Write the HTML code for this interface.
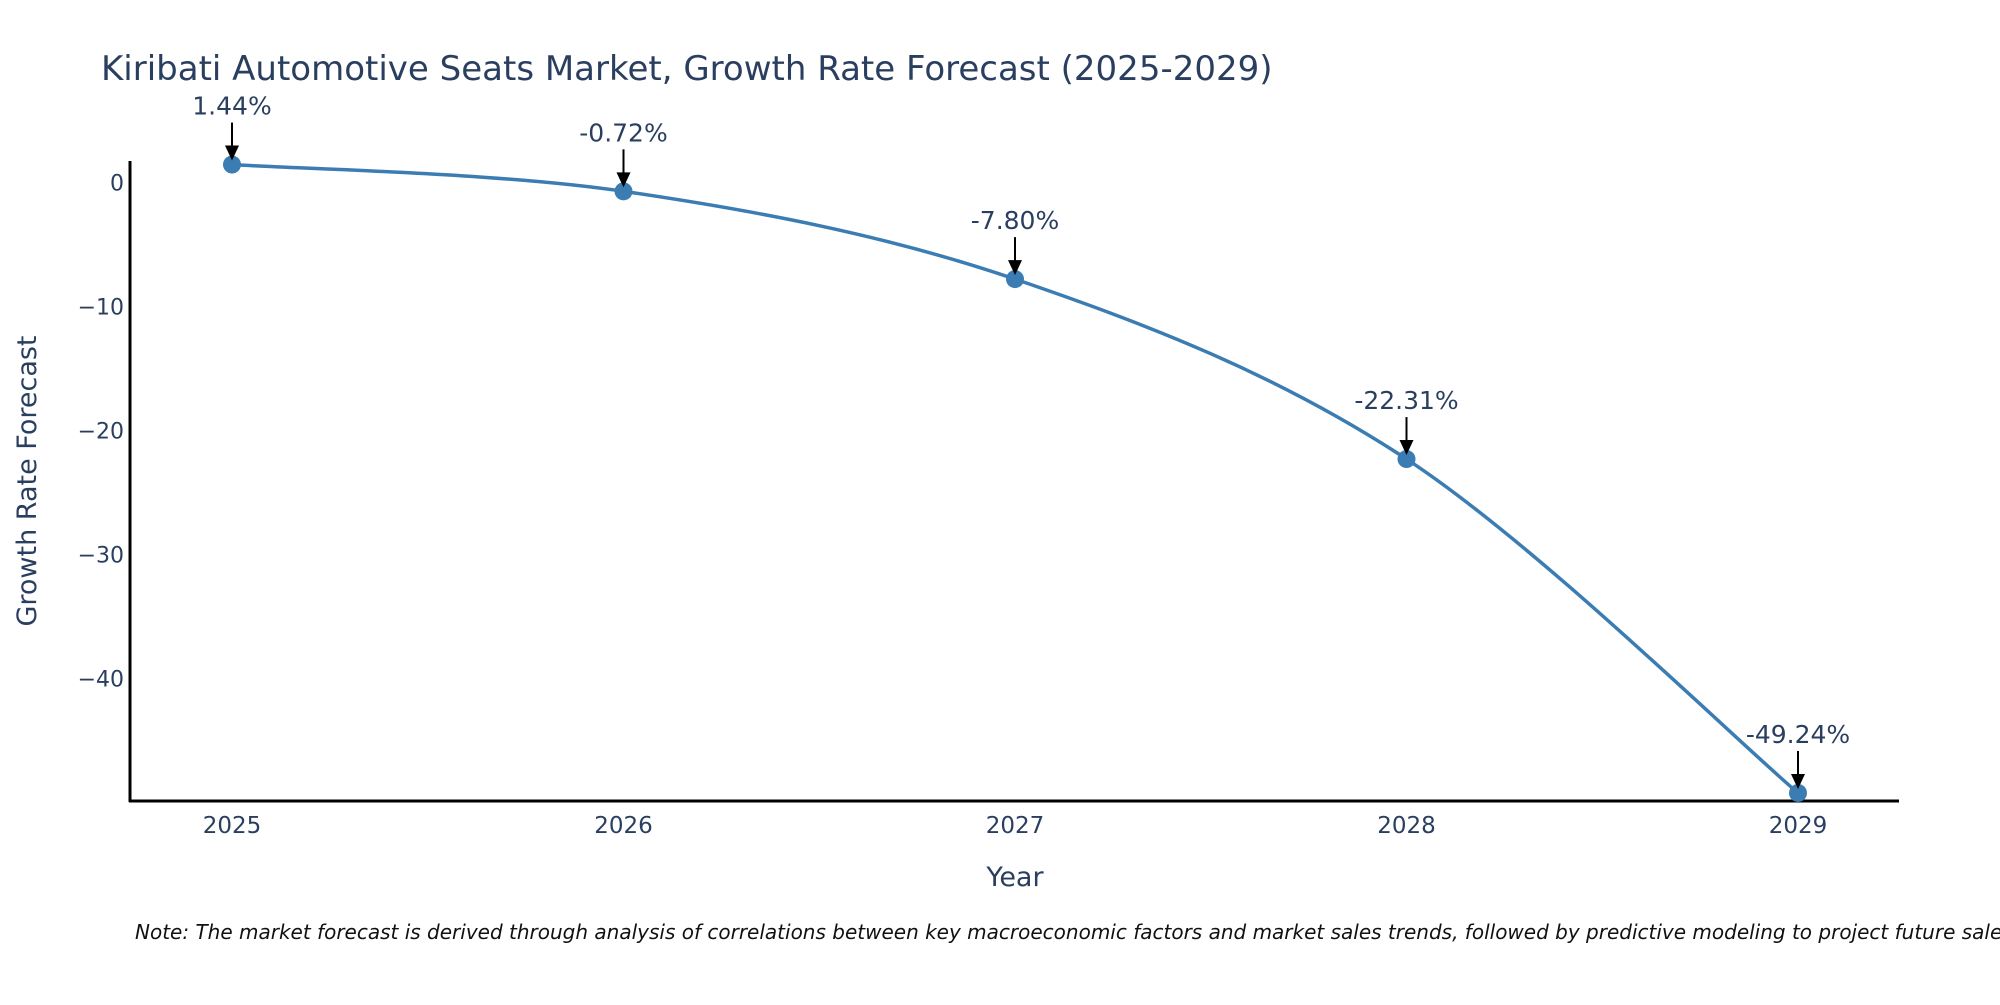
<!DOCTYPE html>
<html><head><meta charset="utf-8"><style>
body{margin:0;background:#fff;}
svg text{font-family:"DejaVu Sans","Liberation Sans",sans-serif;fill:#2a3f5f;}
</style></head><body>
<svg width="2000" height="1000" xmlns="http://www.w3.org/2000/svg">
<text x="101" y="80" font-size="34">Kiribati Automotive Seats Market, Growth Rate Forecast (2025-2029)</text>
<g id="yticks"></g>
<g id="xticks"></g>
<line x1="130" y1="161" x2="130" y2="802" stroke="#000" stroke-width="3"/>
<line x1="129" y1="801" x2="1899" y2="801" stroke="#000" stroke-width="3"/>
<text transform="translate(36,481) rotate(-90)" text-anchor="middle" font-size="27">Growth Rate Forecast</text>
<text x="1015" y="886" text-anchor="middle" font-size="27">Year</text>
<path id="line" fill="none" stroke="#3b7db3" stroke-width="3.5"/>
<g id="marks"></g>
<text x="135" y="939" font-size="20" font-style="italic" style="fill:#111">Note: The market forecast is derived through analysis of correlations between key macroeconomic factors and market sales trends, followed by predictive modeling to project future sales.</text>
</svg>
<script>
const years=[2025,2026,2027,2028,2029];
const values=[1.44,-0.72,-7.80,-22.31,-49.24];
const labels=["1.44%","-0.72%","-7.80%","-22.31%","-49.24%"];
const yTicks=[0,-10,-20,-30,-40];
const NS="http://www.w3.org/2000/svg";
function xs(v){return 232+(v-2025)*391.5;}
function ys(v){return 182.4-v*12.4;}
function mk(t,a,p){const e=document.createElementNS(NS,t);for(const k in a)e.setAttribute(k,a[k]);(p||document.querySelector('svg')).appendChild(e);return e;}
const yt=document.getElementById('yticks'),xt=document.getElementById('xticks'),mg=document.getElementById('marks');
yTicks.forEach(v=>{const t=mk('text',{x:124,y:ys(v)+8,'text-anchor':'end','font-size':22},yt);t.textContent=(v<0?'\u2212'+(-v):v);

});
years.forEach(v=>{const t=mk('text',{x:xs(v),y:833,'text-anchor':'middle','font-size':23},xt);t.textContent=v;

});
const P=years.map((y,i)=>[xs(y),ys(values[i])]);
let d='M'+P[0][0]+','+P[0][1];
for(let i=0;i<P.length-1;i++){const p0=P[Math.max(0,i-1)],p1=P[i],p2=P[i+1],p3=P[Math.min(P.length-1,i+2)];
const c1=[p1[0]+(p2[0]-p0[0])/6,p1[1]+(p2[1]-p0[1])/6],c2=[p2[0]-(p3[0]-p1[0])/6,p2[1]-(p3[1]-p1[1])/6];
d+=' C'+c1+' '+c2+' '+p2;}
document.getElementById('line').setAttribute('d',d);
P.forEach((p,i)=>{
const c=mk('circle',{cx:p[0],cy:p[1],r:9,fill:'#3b7db3'},mg);


const l=mk('line',{x1:p[0],y1:p[1]-42,x2:p[0],y2:p[1]-18,stroke:'#000','stroke-width':2},mg);


const h=mk('polygon',{points:(p[0]-7)+','+(p[1]-19)+' '+(p[0]+7)+','+(p[1]-19)+' '+p[0]+','+(p[1]-4),fill:'#000'},mg);


const t=mk('text',{x:p[0],y:p[1]-50,'text-anchor':'middle','font-size':25},mg);t.textContent=labels[i];


});
</script>
</body></html>
